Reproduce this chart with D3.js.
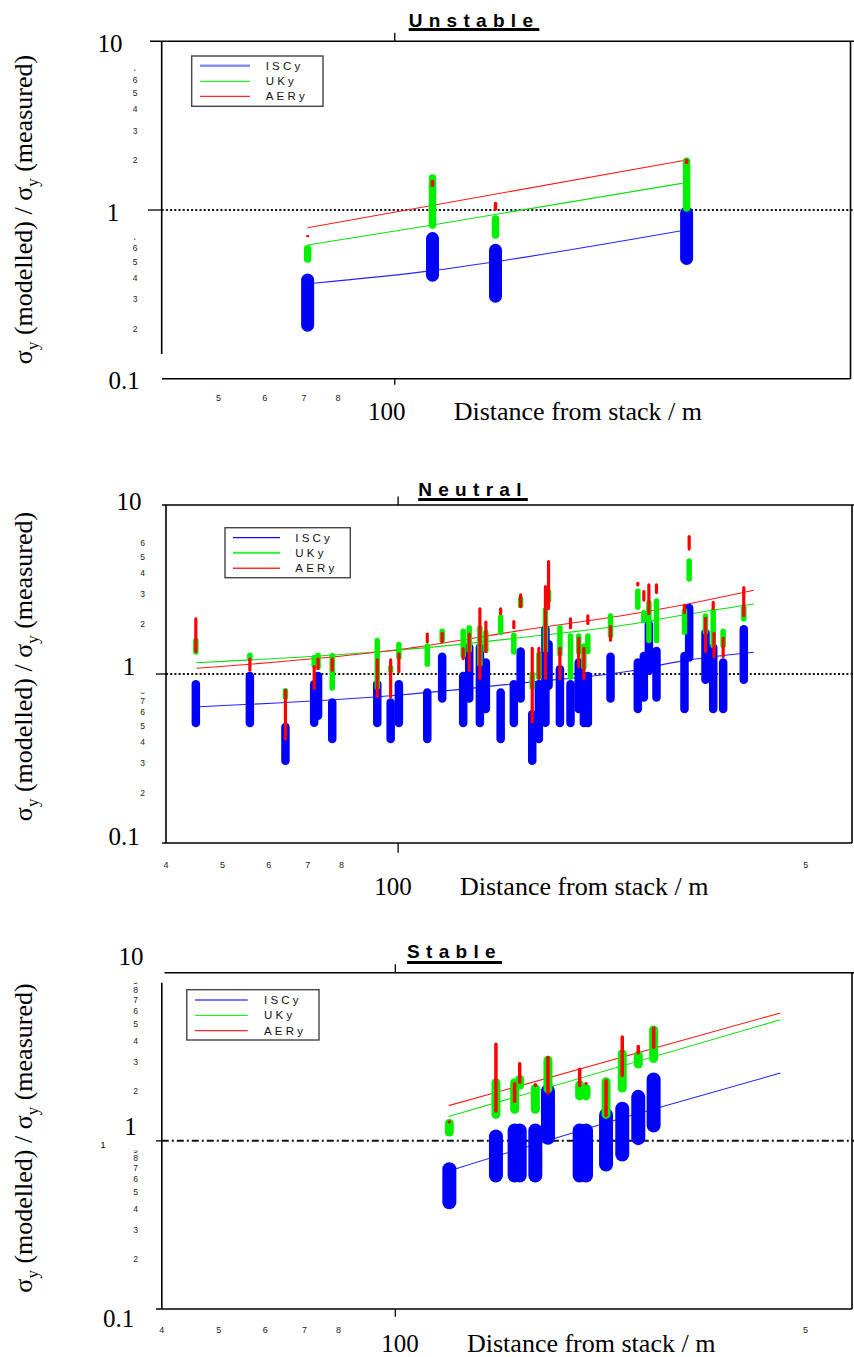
<!DOCTYPE html>
<html>
<head>
<meta charset="utf-8">
<script src="https://cdn.jsdelivr.net/npm/d3@7"></script>
<style>
  body { margin: 0; background: #fff; }
  svg { display: block; }
</style>
</head>
<body>
<script>
// Shared axis domains
const xDomain = [40, 600];
const yDomain = [0.1, 10];
const seriesNames = ["ISCy", "UKy", "AERy"];

// Bars are [distance (m), low ratio, high ratio]
const unstableISC = [[71, 0.19, 0.42], [116, 0.376, 0.74], [148.6, 0.282, 0.63], [315, 0.472, 1.05]];
const unstableUK = [[71, 0.487, 0.62], [116, 0.775, 1.63], [148.6, 0.676, 0.93], [315, 0.977, 2.05]];
const unstableAER = [[71, 0.69, 0.71], [116, 1.37, 1.51], [148.6, 0.99, 1.12], [315, 1.87, 2.02]];
// Fitted curves are [distance, ratio]
const unstableFitISC = [[72.6, 0.368], [116, 0.437], [148.6, 0.494], [307, 0.751]];
const unstableFitUK = [[71, 0.62], [116, 0.815], [310, 1.44]];
const unstableFitAER = [[71, 0.785], [315, 1.98]];

const neutralISC = [
  [45.0, 0.484, 0.922], [55.7, 0.484, 1.03], [64.1, 0.289, 0.515], [71.8, 0.485, 0.922],
  [72.9, 0.534, 1.03], [77.1, 0.389, 0.718], [92.1, 0.484, 0.922], [97.1, 0.389, 0.718],
  [100.3, 0.484, 0.922], [112.2, 0.389, 0.823], [119, 0.676, 1.34], [129.3, 0.484, 1.03],
  [132.4, 0.676, 1.52], [138.1, 0.484, 1.52], [141.4, 0.585, 1.24], [149.9, 0.389, 0.823],
  [157.9, 0.484, 0.922], [162.2, 0.676, 1.44], [169.8, 0.289, 0.612], [174.3, 0.389, 0.922],
  [178.9, 0.485, 1.95], [181.1, 0.804, 1.59], [189.4, 0.484, 1.13], [197.5, 0.484, 0.922],
  [204, 0.585, 1.24], [208.2, 0.484, 1.03], [211.5, 0.484, 1.03], [231.3, 0.676, 1.34],
  [257.6, 0.585, 1.24], [263.8, 0.686, 1.355], [269.1, 0.986, 2.09], [277.3, 0.686, 1.45],
  [309.7, 0.585, 1.355], [315.5, 1.18, 2.6], [336.5, 0.873, 1.86], [346.9, 0.585, 1.52],
  [360.8, 0.585, 1.24], [391.4, 0.873, 1.95]
];
const neutralUK = [
  [45.0, 1.3, 1.64], [55.7, 1.2, 1.34], [64.1, 0.702, 0.826], [71.8, 1.085, 1.3],
  [72.9, 1.056, 1.34], [77.1, 0.797, 1.33], [92.1, 0.804, 1.64], [97.1, 1.01, 1.13],
  [100.3, 1.21, 1.55], [112.2, 1.1, 1.52], [119, 1.52, 1.86], [129.3, 1.24, 1.86],
  [132.4, 1.33, 1.95], [138.1, 1.1, 1.95], [141.4, 1.33, 1.82], [149.9, 1.7, 2.26],
  [157.9, 1.3, 1.76], [162.2, 2.45, 2.89], [169.8, 0.804, 1.03], [174.3, 0.922, 1.355],
  [178.9, 1.33, 2.49], [181.1, 2.63, 3.18], [189.4, 1.27, 1.95], [197.5, 0.922, 1.74],
  [204, 1.3, 1.74], [208.2, 1.056, 1.52], [211.5, 1.31, 1.74], [231.3, 1.63, 2.29],
  [257.6, 2.39, 3.21], [263.8, 2.0, 2.39], [269.1, 1.52, 2.74], [277.3, 1.52, 2.81],
  [309.7, 1.7, 2.46], [315.5, 3.52, 4.84], [336.5, 1.7, 2.29], [346.9, 1.42, 2.45],
  [360.8, 1.42, 1.86], [391.4, 2.04, 2.56]
];
const neutralAER = [
  [45.0, 1.33, 2.17], [55.7, 1.03, 1.25], [64.1, 0.403, 0.818], [71.8, 0.804, 1.13],
  [72.9, 1.056, 1.25], [77.1, 1.03, 1.25], [92.1, 0.721, 1.24], [97.1, 0.718, 1.24],
  [100.3, 1.01, 1.34], [112.2, 1.52, 1.76], [119, 1.52, 1.78], [129.3, 1.21, 1.44],
  [132.4, 1.03, 1.76], [138.1, 0.922, 2.48], [141.4, 1.33, 2.07], [149.9, 2.23, 2.48],
  [157.9, 1.84, 2.09], [162.2, 2.45, 3.0], [169.8, 0.511, 1.45], [174.3, 0.922, 1.45],
  [178.9, 0.922, 3.36], [181.1, 2.39, 4.73], [189.4, 0.922, 1.45], [197.5, 1.84, 2.17],
  [204, 1.08, 1.66], [208.2, 0.922, 1.45], [211.5, 1.95, 2.26], [231.3, 1.55, 1.95],
  [257.6, 3.29, 3.52], [263.8, 2.68, 3.14], [269.1, 2.23, 3.44], [277.3, 2.97, 3.44],
  [309.7, 2.26, 2.6], [315.5, 5.37, 6.65], [336.5, 1.33, 2.18], [346.9, 2.39, 2.71],
  [348, 1.24, 1.78], [360.8, 1.24, 1.66], [391.4, 2.17, 3.32]
];
const neutralFitISC = [[45.7, 0.64], [101, 0.751], [164.3, 0.888], [250.2, 1.042], [300.9, 1.18], [407.2, 1.344]];
const neutralFitUK = [[45.1, 1.166], [101, 1.387], [164.3, 1.649], [250.2, 1.968], [300.9, 2.204], [407.2, 2.596]];
const neutralFitAER = [[45.1, 1.081], [101, 1.4], [164.3, 1.821], [250.2, 2.256], [300.9, 2.526], [407.2, 3.129]];

const stableISC = [
  [123.6, 0.392, 0.747], [148.4, 0.565, 1.17], [159.7, 0.565, 1.27], [162.9, 0.565, 1.27],
  [173.2, 0.565, 1.27], [182, 0.947, 2.18], [206.1, 0.565, 1.27], [211.3, 0.565, 1.27],
  [228.6, 0.657, 1.57], [243.6, 0.753, 1.71], [259.4, 0.943, 2.01], [275.5, 1.12, 2.55]
];
const stableUK = [
  [123.6, 1.06, 1.35], [148.4, 1.35, 2.36], [159.7, 1.45, 2.36], [162.9, 2.01, 2.47],
  [173.2, 1.45, 2.18], [182, 1.92, 3.21], [206.1, 1.74, 2.29], [211.3, 1.74, 2.18],
  [228.6, 1.35, 2.39], [243.6, 1.94, 3.51], [259.4, 2.69, 3.43], [275.5, 2.9, 4.86]
];
const stableAER = [
  [123.6, 1.27, 1.32], [148.4, 1.47, 3.85], [159.7, 1.68, 2.24], [162.9, 2.18, 2.94],
  [173.2, 2.08, 2.21], [182, 1.88, 3.21], [206.1, 2.08, 2.73], [211.3, 2.15, 2.24],
  [228.6, 1.38, 2.33], [243.6, 2.39, 4.24], [259.4, 3.25, 3.73], [275.5, 3.51, 4.79]
];
const stableFitISC = [[126.5, 0.681], [254.7, 1.43], [452.9, 2.53]];
const stableFitUK = [[123.3, 1.395], [452.9, 5.25]];
const stableFitAER = [[123.3, 1.62], [452.9, 5.76]];

// Tick label values
const majorYLabels = ["10", "1", "0.1"];
const majorYValues = [10, 1, 0.1];
const minorXLabelRight = 500;

const serif = "'Liberation Serif', 'Times New Roman', serif";
const sans = "'Liberation Sans', Arial, sans-serif";

const svg = d3.select("body").append("svg").attr("width", 854).attr("height", 1357);
let clipId = 0;

// Layout of each panel (the source figure has ragged, offset frames)
const panels = [
  {
    title: "Unstable", titleX: 474, titleY: 26.7, underlineY: 28,
    top: 41.3, bottom: 378.7, left: 161.7, right: 850.5,
    topStart: 150, leftEnd: 354, bottomStart: 162, tickOneStart: 148,
    bottomTickLen: 6, refDash: "2,2.2",
    bars: [unstableISC, unstableUK, unstableAER], fits: [unstableFitISC, unstableFitUK, unstableFitAER],
    barWidths: [13, 7.5, 3.5],
    majorPos: [[110, 2], [113, 2], [124, 1.5]],
    minorX: 135, minorUp: [2, 3, 4, 5, 6], partialUp: [7], minorLow: [0.2, 0.3, 0.4, 0.5, 0.6], partialLow: [0.7],
    xMinor: [50, 60, 70, 80], xMinorRight: false, xMinorY: 398.3,
    hundredX: 386.7, labelY: 411.7, distX: 453.7, yTitleY: 209.5,
    legend: { box: [191.7, 56, 323, 106.3], line: [200, 250], textX: 265.7, rows: [65.7, 81.3, 96.3],
      colors: ["#8a8aff", "#2ee82e", "#ff2a2a"], widths: [2.6, 1.2, 1.2] }
  },
  {
    title: "Neutral", titleX: 473, titleY: 496, underlineY: 498,
    top: 505, bottom: 843, left: 166, right: 852,
    topStart: 162, leftEnd: 843, bottomStart: 162, tickOneStart: 156,
    bottomTickLen: 9.7, refDash: "2,2.2",
    bars: [neutralISC, neutralUK, neutralAER], fits: [neutralFitISC, neutralFitUK, neutralFitAER],
    barWidths: [8.5, 5.5, 3.2],
    majorPos: [[129, -3.3], [129, -7.3], [124, -6.3]],
    minorX: 142.7, minorUp: [2, 3, 4, 5, 6], partialUp: [], minorLow: [0.2, 0.3, 0.4, 0.5, 0.6, 0.7], partialLow: [0.8],
    xMinor: [40, 50, 60, 70, 80], xMinorRight: true, xMinorY: 865,
    hundredX: 393, labelY: 886.7, distX: 460, yTitleY: 666.5,
    legend: { box: [225, 527.7, 350.3, 577.7], line: [233, 280], textX: 295.3, rows: [537.7, 552.7, 568.3],
      colors: ["#1010ff", "#33ee33", "#ff3030"], widths: [1.3, 2, 1.6] }
  },
  {
    title: "Stable", titleX: 454.5, titleY: 958.3, underlineY: 961,
    top: 972.7, bottom: 1309, left: 161.8, right: 852,
    topStart: 164.5, leftStart: 982.7, leftEnd: 1309, bottomStart: 156, tickOneStart: 156,
    bottomTickLen: 7.7, refDash: "7,3,2,3",
    bars: [stableISC, stableUK, stableAER], fits: [stableFitISC, stableFitUK, stableFitAER],
    barWidths: [14, 9, 3.5],
    majorPos: [[131, -16], [130.5, -14.3], [118.5, 9]],
    minorX: 135.7, minorUp: [2, 3, 4, 5, 6, 7, 8], partialUp: [9], minorLow: [0.2, 0.3, 0.4, 0.5, 0.6, 0.7, 0.8], partialLow: [0.9],
    xMinor: [40, 50, 60, 70, 80], xMinorRight: true, xMinorY: 1330,
    hundredX: 400, labelY: 1343, distX: 467, yTitleY: 1138, tinyOne: [103, 1145],
    legend: { box: [186.8, 989.7, 319, 1040], line: [195, 247.8], textX: 264, rows: [1000, 1015.3, 1030.7],
      colors: ["#4848ff", "#2ee82e", "#ff2a2a"], widths: [1.5, 1.2, 1.2] }
  }
];

const barColors = ["#0000ff", "#00f000", "#ff0000"];
const fitColors = ["#2424ff", "#10e010", "#ff1a1a"];

panels.forEach(drawPanel);

function drawPanel(p) {
  const x = d3.scaleLog().domain(xDomain).range([p.left, p.right]);
  const y = d3.scaleLog().domain(yDomain).range([p.bottom, p.top]);
  const g = svg.append("g");

  // Frame lines
  const seg = (x1, y1, x2, y2, w = 1.6) =>
    g.append("line").attr("x1", x1).attr("y1", y1).attr("x2", x2).attr("y2", y2)
      .attr("stroke", "#000").attr("stroke-width", w);
  seg(p.topStart, p.top, 854, p.top);
  seg(p.left, p.leftStart || p.top, p.left, p.leftEnd);
  seg(p.bottomStart, p.bottom, p.right, p.bottom);
  seg(p.right, p.top, p.right, p.bottom);
  // Only ticks drawn: 100 m on top/bottom, ratio 1 on the left
  seg(x(100), p.top - 8.5, x(100), p.top, 1.3);
  seg(x(100), p.bottom, x(100), p.bottom + p.bottomTickLen, 1.3);
  seg(p.tickOneStart, y(1), p.left, y(1), 1.3);

  // Reference line at ratio = 1
  g.append("line")
    .attr("x1", p.left).attr("x2", 854).attr("y1", y(1)).attr("y2", y(1))
    .attr("stroke", "#111").attr("stroke-width", p.refDash.length > 6 ? 2 : 1.8)
    .attr("stroke-dasharray", p.refDash);

  // Fitted model curves
  const line = d3.line().x((d) => x(d[0])).y((d) => y(d[1])).curve(d3.curveMonotoneX);
  p.fits.forEach((fit, i) => {
    g.append("path").attr("d", line(fit)).attr("fill", "none")
      .attr("stroke", fitColors[i]).attr("stroke-width", 1.1);
  });

  // Range bars: ISC, then UK, then AER on top
  p.bars.forEach((bars, i) => {
    const w = p.barWidths[i];
    g.append("g")
      .selectAll("rect")
      .data(bars)
      .join("rect")
      .attr("x", (d) => x(d[0]) - w / 2)
      .attr("y", (d) => y(d[2]))
      .attr("width", w)
      .attr("height", (d) => Math.max(2, y(d[1]) - y(d[2])))
      .attr("rx", w / 2)
      .attr("fill", barColors[i]);
  });

  // Major y labels (placed as in the source, slightly off their ticks)
  majorYValues.forEach((v, i) => {
    g.append("text")
      .attr("x", p.majorPos[i][0]).attr("y", y(v) + p.majorPos[i][1])
      .attr("text-anchor", "middle").attr("dominant-baseline", "central")
      .attr("font-family", serif).attr("font-size", 25)
      .text(majorYLabels[i]);
  });
  if (p.tinyOne) {
    g.append("text").attr("x", p.tinyOne[0]).attr("y", p.tinyOne[1])
      .attr("text-anchor", "middle").attr("dominant-baseline", "central")
      .attr("font-family", sans).attr("font-size", 9).text("1");
  }

  // Minor y labels, single digits
  const digit = (v) => String(Math.round(v >= 1 ? v : v * 10));
  const minorText = (v, partial) => {
    const t = g.append("text")
      .attr("x", p.minorX).attr("y", y(v) + 1)
      .attr("text-anchor", "middle").attr("dominant-baseline", "central")
      .attr("font-family", sans).attr("font-size", 8.5).attr("fill", "#1a1a1a")
      .text(digit(v));
    if (partial) {
      // only the lower stroke of these labels is visible in the source
      const id = "clip" + clipId++;
      svg.append("clipPath").attr("id", id).append("rect")
        .attr("x", p.minorX - 6).attr("y", y(v) + 2).attr("width", 12).attr("height", 3.5);
      t.attr("clip-path", `url(#${id})`);
    }
  };
  p.minorUp.forEach((v) => minorText(v, false));
  p.partialUp.forEach((v) => minorText(v, true));
  p.minorLow.forEach((v) => minorText(v, false));
  p.partialLow.forEach((v) => minorText(v, true));

  // Minor x labels
  const xm = p.xMinor.concat(p.xMinorRight ? [minorXLabelRight] : []);
  g.selectAll("text.xminor")
    .data(xm)
    .join("text")
    .attr("class", "xminor")
    .attr("x", (d) => x(d)).attr("y", p.xMinorY)
    .attr("text-anchor", "middle").attr("dominant-baseline", "central")
    .attr("font-family", sans).attr("font-size", 9).attr("fill", "#1a1a1a")
    .text((d) => String(d).charAt(0));

  // x title with its "100" label
  g.append("text").attr("x", p.hundredX).attr("y", p.labelY)
    .attr("text-anchor", "middle").attr("dominant-baseline", "central")
    .attr("font-family", serif).attr("font-size", 25).text("100");
  g.append("text").attr("x", p.distX).attr("y", p.labelY)
    .attr("dominant-baseline", "central")
    .attr("font-family", serif).attr("font-size", 26).text("Distance from stack / m");

  // y title
  const yt = g.append("text")
    .attr("transform", `translate(32,${p.yTitleY}) rotate(-90)`)
    .attr("text-anchor", "middle")
    .attr("font-family", serif).attr("font-size", 26);
  yt.append("tspan").text("\u03c3");
  yt.append("tspan").attr("font-size", 17).attr("dy", 6).text("y");
  yt.append("tspan").attr("dy", -6).text(" (modelled) / \u03c3");
  yt.append("tspan").attr("font-size", 17).attr("dy", 6).text("y");
  yt.append("tspan").attr("dy", -6).text(" (measured)");

  // Title, spaced and underlined
  const title = g.append("text")
    .attr("x", p.titleX).attr("y", p.titleY)
    .attr("text-anchor", "middle")
    .attr("font-family", sans).attr("font-weight", "bold").attr("font-size", 19)
    .attr("letter-spacing", 6.3)
    .text(p.title);
  const bb = title.node().getBBox();
  g.append("rect").attr("x", bb.x).attr("y", p.underlineY)
    .attr("width", bb.width).attr("height", 3).attr("fill", "#000");

  // Legend
  const L = p.legend;
  g.append("rect")
    .attr("x", L.box[0]).attr("y", L.box[1])
    .attr("width", L.box[2] - L.box[0]).attr("height", L.box[3] - L.box[1])
    .attr("fill", "#fff").attr("stroke", "#444").attr("stroke-width", 1.4);
  seriesNames.forEach((name, i) => {
    g.append("line")
      .attr("x1", L.line[0]).attr("x2", L.line[1]).attr("y1", L.rows[i]).attr("y2", L.rows[i])
      .attr("stroke", L.colors[i]).attr("stroke-width", L.widths[i]);
    g.append("text")
      .attr("x", L.textX).attr("y", L.rows[i])
      .attr("dominant-baseline", "central")
      .attr("font-family", sans).attr("font-size", 11.5).attr("letter-spacing", 3.2)
      .attr("fill", "#111")
      .text(name);
  });
}
</script>
</body>
</html>
